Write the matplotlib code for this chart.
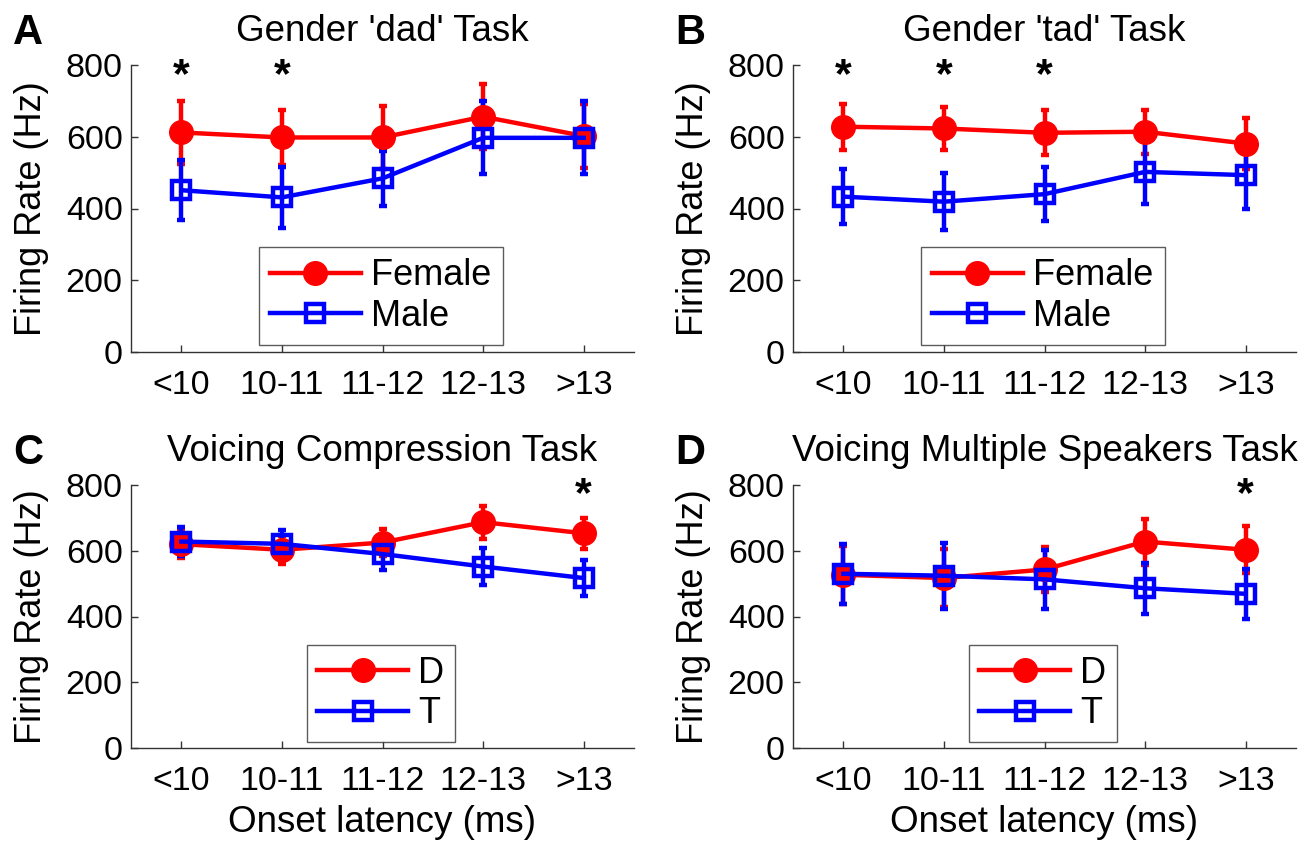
import matplotlib
matplotlib.use('Agg')
import matplotlib.pyplot as plt
from matplotlib.lines import Line2D
import numpy as np

plt.rcParams['font.family'] = ['Liberation Sans', 'DejaVu Sans']

latency = ['<10', '10-11', '11-12', '12-13', '>13']

# Gender 'dad'
female_dad = [612, 598, 598, 656, 602]
female_dad_err = [87, 76, 88, 90, 90]
male_dad = [451, 431, 484, 597, 597]
male_dad_err = [83, 85, 77, 102, 102]

# Gender 'tad'
female_tad = [628, 623, 611, 614, 581]
female_tad_err = [64, 61, 63, 61, 70]
male_tad = [433, 419, 440, 502, 493]
male_tad_err = [77, 80, 76, 90, 93]

# Voicing compression
d_comp = [620, 603, 625, 687, 653]
d_comp_err = [42, 43, 40, 50, 48]
t_comp = [628, 621, 590, 552, 517]
t_comp_err = [45, 42, 48, 55, 56]

# Voicing multiple speakers
d_multi = [527, 517, 543, 628, 603]
d_multi_err = [88, 88, 67, 70, 72]
t_multi = [530, 524, 513, 486, 469]
t_multi_err = [92, 100, 90, 78, 76]

stars = [[0, 1], [0, 1, 2], [4], [4]]

W, H = 1312, 841
fig = plt.figure(figsize=(W/100, H/100), dpi=100)

def pos(l, r, t, b):
    return [l/W, (H-b)/H, (r-l)/W, (b-t)/H]

panels = [
    dict(rect=pos(131, 634, 65, 352), title="Gender 'dad' Task", letter='A',
         s1=(female_dad, female_dad_err), s2=(male_dad, male_dad_err),
         labels=('Female', 'Male'), leg=(0.497, 0.195), xlab=False),
    dict(rect=pos(793, 1296, 65, 352), title="Gender 'tad' Task", letter='B',
         s1=(female_tad, female_tad_err), s2=(male_tad, male_tad_err),
         labels=('Female', 'Male'), leg=(0.497, 0.195), xlab=False),
    dict(rect=pos(131, 634, 485, 748), title='Voicing Compression Task', letter='C',
         s1=(d_comp, d_comp_err), s2=(t_comp, t_comp_err),
         labels=('D', 'T'), leg=(0.497, 0.207), xlab=True),
    dict(rect=pos(793, 1296, 485, 748), title='Voicing Multiple Speakers Task', letter='D',
         s1=(d_multi, d_multi_err), s2=(t_multi, t_multi_err),
         labels=('D', 'T'), leg=(0.497, 0.207), xlab=True),
]

x = np.arange(1, 6)
red, blue = '#ff0000', '#0000ff'

for i, p in enumerate(panels):
    ax = fig.add_axes(p['rect'])
    y1, e1 = p['s1']
    y2, e2 = p['s2']
    ax.errorbar(x, y1, yerr=e1, color=red, lw=3.2, elinewidth=3.2,
                capsize=3, capthick=3.2, marker='o', ms=17, mfc=red, mec=red)
    ax.errorbar(x, y2, yerr=e2, color=blue, lw=3.2, elinewidth=3.2,
                capsize=3, capthick=3.2, marker='s', ms=13, mfc='none',
                mec=blue, mew=3.2)
    for k in stars[i]:
        ax.text(x[k], 768, '*', ha='center', va='center', fontsize=31,
                fontweight='bold')
    ax.set_xlim(0.5, 5.5)
    ax.set_ylim(0, 800)
    ax.set_xticks(x)
    ax.set_xticklabels(latency)
    ax.set_yticks([0, 200, 400, 600, 800])
    ax.spines['top'].set_visible(False)
    ax.spines['right'].set_visible(False)
    for s in ['left', 'bottom']:
        ax.spines[s].set_color('#333333')
        ax.spines[s].set_linewidth(1)
    ax.tick_params(direction='in', length=5, width=1, labelsize=24.5,
                   color='#333333')
    ax.tick_params(axis='x', pad=13)
    ax.tick_params(axis='y', pad=6)
    ax.set_ylabel('Firing Rate (Hz)', fontsize=26, labelpad=12)
    if p['xlab']:
        ax.set_xlabel('Onset latency (ms)', fontsize=26.5, labelpad=6)
    ax.set_title(p['title'], fontsize=26.5, pad=17)
    handles = [
        Line2D([], [], color=red, lw=3.2, marker='o', ms=17, mfc=red, mec=red),
        Line2D([], [], color=blue, lw=3.2, marker='s', ms=13, mfc='none',
               mec=blue, mew=3.2),
    ]
    leg = ax.legend(handles, p['labels'], loc='center', bbox_to_anchor=p['leg'],
                    fontsize=26, frameon=True, fancybox=False,
                    edgecolor='#333333', handlelength=2.5, borderpad=0.3,
                    labelspacing=0.15, handletextpad=0.3, borderaxespad=0)
    leg.get_frame().set_linewidth(1)
    fig.text(p['rect'][0] - 118/W, p['rect'][1] + p['rect'][3] + 32/H,
             p['letter'], fontsize=30, fontweight='bold', va='center')

fig.savefig('out.png', dpi=100)
